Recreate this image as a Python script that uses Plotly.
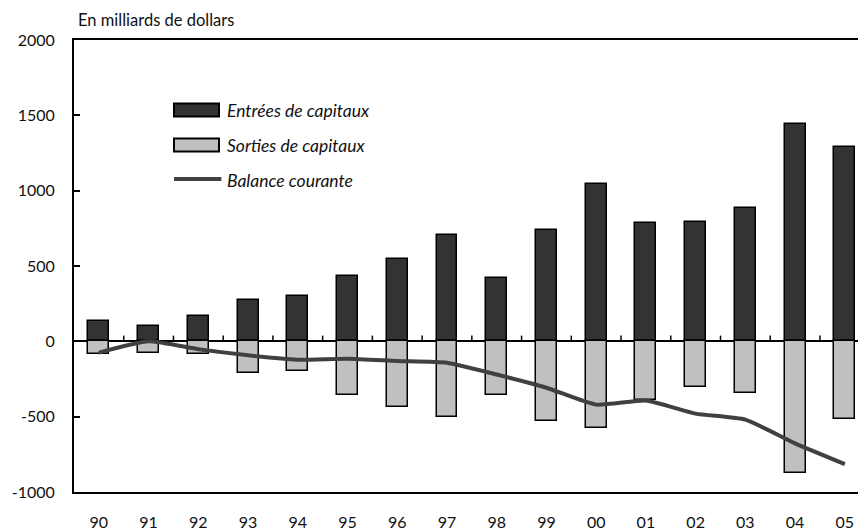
import plotly.graph_objects as go

years = ["90", "91", "92", "93", "94", "95", "96", "97", "98", "99", "00", "01", "02", "03", "04", "05"]
entrees = [133, 105, 165, 273, 298, 433, 545, 705, 420, 738, 1045, 783, 793, 887, 1445, 1292]
sorties = [-87, -78, -85, -209, -198, -358, -433, -500, -358, -527, -573, -390, -303, -343, -875, -517]
balance = [-75, 0, -52, -93, -122, -115, -130, -142, -220, -308, -420, -393, -480, -520, -677, -815]
ytick_vals = [-1000, -500, 0, 500, 1000, 1500, 2000]
ytick_text = ["-1000", "-500", "0", "500", "1000", "1500", "2000"]
legend_labels = ["Entrées de capitaux", "Sorties de capitaux", "Balance courante"]

FONT = "Lato"
W, H = 858, 530
L, R, T, B = 74, 0, 40, 38
xs = list(range(len(years)))

fig = go.Figure()
fig.add_trace(go.Bar(
    x=xs, y=entrees, name=legend_labels[0], width=0.42,
    marker=dict(color="#333333", line=dict(color="black", width=1.5)),
))
fig.add_trace(go.Bar(
    x=xs, y=sorties, name=legend_labels[1], width=0.42,
    marker=dict(color="#c0c0c0", line=dict(color="black", width=1.5)),
))
fig.add_trace(go.Scatter(
    x=xs, y=balance, name=legend_labels[2], mode="lines",
    line=dict(color="#404040", width=4, shape="spline", smoothing=0.5),
))

shapes = []
for i in range(len(years) - 1):
    shapes.append(dict(type="line", xref="x", yref="y", x0=i + 0.5, x1=i + 0.5,
                       y0=0, y1=38, line=dict(color="black", width=1.5)))


def px_to_paper(px, py):
    return (px - L) / (W - L - R), (H - B - py) / (H - T - B)


# custom legend (pixel positions converted to paper coords)
annotations = []
legend_rows = [110, 145, 180]
fills = ["#333333", "#c0c0c0", None]
for lbl, yc, fill in zip(legend_labels, legend_rows, fills):
    x0, y0 = px_to_paper(174, yc + 6.5)
    x1, y1 = px_to_paper(219, yc - 6.5)
    if fill:
        shapes.append(dict(type="rect", xref="paper", yref="paper", x0=x0, x1=x1, y0=y0, y1=y1,
                           fillcolor=fill, line=dict(color="black", width=2)))
    else:
        _, ym = px_to_paper(0, yc - 1)
        shapes.append(dict(type="line", xref="paper", yref="paper", x0=x0, x1=x1 + 0.003, y0=ym, y1=ym,
                           line=dict(color="#404040", width=4)))
    tx, ty = px_to_paper(225, yc)
    annotations.append(dict(text=lbl, xref="paper", yref="paper", x=tx, y=ty,
                            xanchor="left", yanchor="middle", showarrow=False,
                            font=dict(family=FONT, size=17.5, style="italic", color="#111111")))

annotations.append(dict(
    text="En milliards de dollars", xref="paper", yref="paper",
    x=px_to_paper(76, 0)[0], y=px_to_paper(0, 20)[1], xanchor="left", yanchor="middle",
    showarrow=False, font=dict(family=FONT, size=16.5, color="#111111"),
))

fig.update_layout(
    width=W, height=H,
    margin=dict(l=L, r=R, t=T, b=B, autoexpand=False),
    paper_bgcolor="white", plot_bgcolor="white",
    barmode="relative", bargap=0,
    font=dict(family=FONT, size=16, color="black"),
    showlegend=False,
    xaxis=dict(
        range=[-0.5, 15.265], tickvals=xs, ticktext=years,
        showline=True, linecolor="black", linewidth=2, mirror=True,
        showgrid=False, zeroline=False, ticks="", ticklabelstandoff=15,
        ticklabeloverflow="allow", automargin=False,
        tickfont=dict(family=FONT, size=16, color="#111111"),
    ),
    yaxis=dict(
        range=[-1000, 2000], tickvals=ytick_vals, ticktext=ytick_text,
        showline=True, linecolor="black", linewidth=2, automargin=False,
        showgrid=False, zeroline=True, zerolinecolor="black", zerolinewidth=1.5,
        ticks="inside", ticklen=6, tickwidth=2, tickcolor="black",
        ticklabelstandoff=14, tickfont=dict(family=FONT, size=16, color="#111111"),
    ),
    shapes=shapes,
    annotations=annotations,
)

fig.write_html("out.html", config={"displayModeBar": False},
               post_script="document.body.style.margin='0';document.body.style.overflow='hidden';")
